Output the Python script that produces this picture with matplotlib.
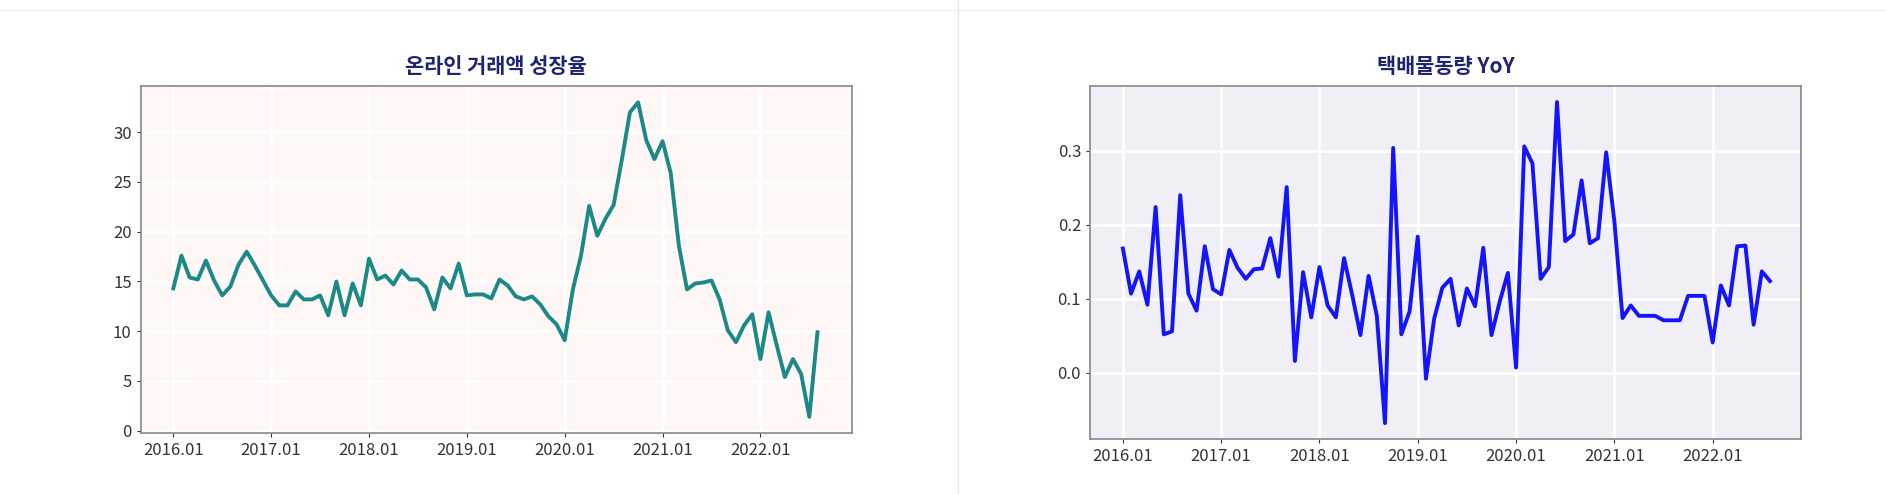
import matplotlib
matplotlib.use("Agg")
import matplotlib.pyplot as plt
from matplotlib.lines import Line2D
import numpy as np

plt.rcParams['font.family'] = ['Noto Sans CJK KR', 'DejaVu Sans']

online_growth = [14.3,17.6,15.4,15.2,17.1,15.1,13.6,14.5,16.7,18.0,16.6,15.1,
                 13.6,12.6,12.6,14.0,13.2,13.2,13.6,11.6,15.0,11.6,14.8,12.6,
                 17.3,15.2,15.6,14.7,16.1,15.2,15.2,14.4,12.2,15.4,14.3,16.8,
                 13.6,13.7,13.7,13.3,15.2,14.6,13.5,13.2,13.5,12.7,11.5,10.7,
                 9.1,14.2,17.6,22.6,19.6,21.3,22.7,27.2,32.0,33.0,29.2,27.3,
                 29.1,25.9,18.6,14.2,14.8,14.9,15.1,13.2,10.1,8.9,10.6,11.7,
                 7.2,11.9,8.6,5.4,7.2,5.7,1.4,9.9]
parcel_yoy = [0.168,0.107,0.137,0.092,0.224,0.052,0.056,0.240,0.107,0.084,0.171,0.113,
              0.106,0.166,0.142,0.127,0.140,0.141,0.182,0.130,0.251,0.016,0.136,0.075,
              0.143,0.091,0.075,0.155,0.105,0.051,0.131,0.077,-0.068,0.304,0.052,0.083,
              0.184,-0.008,0.073,0.115,0.127,0.064,0.114,0.090,0.169,0.051,0.096,0.135,
              0.007,0.306,0.283,0.127,0.143,0.366,0.178,0.187,0.260,0.175,0.182,0.298,
              0.205,0.074,0.091,0.077,0.077,0.077,0.071,0.071,0.071,0.104,0.104,0.104,
              0.041,0.118,0.091,0.171,0.172,0.065,0.137,0.124]
tick_labels = ['2016.01','2017.01','2018.01','2019.01','2020.01','2021.01','2022.01']
titles = ['온라인 거래액 성장율', '택배물동량 YoY']

x = np.arange(len(online_growth))
ticks = np.arange(0, 80, 12)

fig = plt.figure(figsize=(18.86, 4.94), dpi=100)
fig.add_artist(Line2D([0.508, 0.508], [0, 1], color='#e6e6e6', lw=1))
fig.add_artist(Line2D([0, 1], [0.98, 0.98], color='#eeeeee', lw=1))

def style(ax, bg, title):
    ax.set_facecolor(bg)
    ax.grid(True, color='white', lw=2)
    ax.set_axisbelow(True)
    for s in ax.spines.values():
        s.set_color('#888888'); s.set_linewidth(1.2)
    ax.set_xticks(ticks)
    ax.set_xticklabels(tick_labels)
    ax.tick_params(labelsize=12, colors='#333333', length=3)
    ax.set_title(title, fontsize=15, fontweight='bold', color='#1f2370', pad=10)

ax1 = fig.add_axes([0.0746, 0.124, 0.377, 0.701])
ax1.plot(x, online_growth, color='#1b8a87', lw=2.8)
ax1.set_xlim(-4, 83.2)
ax1.set_ylim(-0.2, 34.6)
ax1.set_yticks([0, 5, 10, 15, 20, 25, 30])
style(ax1, '#fff6f6', titles[0])

ax2 = fig.add_axes([0.578, 0.112, 0.377, 0.713])
ax2.plot(x, parcel_yoy, color='#1414ff', lw=2.8)
ax2.set_xlim(-4, 82.8)
ax2.set_ylim(-0.089, 0.387)
ax2.set_yticks([0.0, 0.1, 0.2, 0.3])
ax2.set_yticklabels(['0.0', '0.1', '0.2', '0.3'])
style(ax2, '#f1eff6', titles[1])

fig.savefig('out.png', dpi=100)
